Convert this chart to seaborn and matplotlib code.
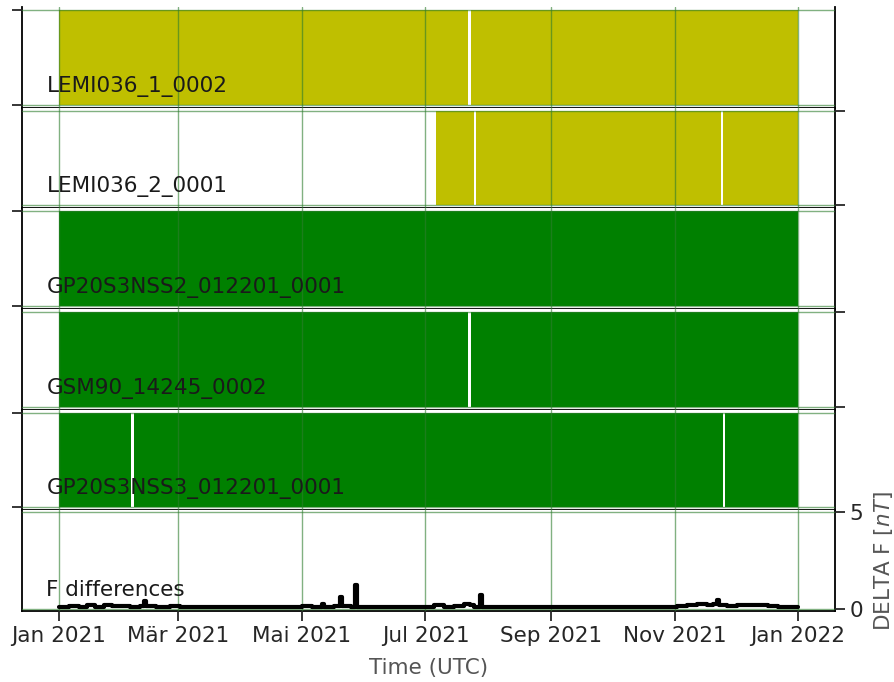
import matplotlib
matplotlib.use("Agg")
import matplotlib.pyplot as plt
import seaborn as sns
import pandas as pd
import numpy as np

# ---------------- data ----------------
sensor_names = ["LEMI036_1_0002", "LEMI036_2_0001", "GP20S3NSS2_012201_0001",
                "GSM90_14245_0002", "GP20S3NSS3_012201_0001"]
sensor_colors = ["#bfbf00", "#bfbf00", "#008000", "#008000", "#008000"]

# periods with data (start, end) for each sensor
lemi1_periods = [("2021-01-01 00:00", "2021-07-22 06:00"), ("2021-07-23 12:00", "2022-01-01 00:00")]
lemi2_periods = [("2021-07-06 00:00", "2021-07-24 18:00"), ("2021-07-26 00:00", "2021-11-23 18:00"),
                 ("2021-11-25 00:00", "2022-01-01 00:00")]
gp20s2_periods = [("2021-01-01 00:00", "2022-01-01 00:00")]
gsm90_periods = [("2021-01-01 00:00", "2021-07-22 06:00"), ("2021-07-23 06:00", "2022-01-01 00:00")]
gp20s3_periods = [("2021-01-01 00:00", "2021-02-05 18:00"), ("2021-02-07 00:00", "2021-11-24 18:00"),
                  ("2021-11-26 00:00", "2022-01-01 00:00")]
sensor_periods = [lemi1_periods, lemi2_periods, gp20s2_periods, gsm90_periods, gp20s3_periods]

# F differences (day offset from 2021-01-01, nT)
fdiff_day = [0, 5, 10, 14, 18, 22, 26, 30, 35, 40, 42, 43, 48, 55, 60, 65, 70, 75, 80, 85,
             90, 95, 100, 105, 110, 115, 120, 125, 130, 131, 136, 139, 140, 144, 146, 147, 150, 155,
             160, 165, 170, 175, 180, 185, 190, 195, 200, 203, 205, 208, 209, 212, 216, 220, 225,
             230, 235, 240, 245, 250, 255, 260, 265, 270, 275, 280, 285, 290, 295, 300, 305, 310,
             315, 320, 323, 325, 326, 330, 335, 340, 345, 350, 355, 360, 365]
fdiff_val = [0.10, 0.18, 0.12, 0.20, 0.12, 0.20, 0.14, 0.16, 0.10, 0.14, 0.42, 0.15, 0.12, 0.14,
             0.10, 0.12, 0.10, 0.12, 0.10, 0.12, 0.10, 0.11, 0.10, 0.12, 0.10, 0.12, 0.18, 0.12,
             0.25, 0.12, 0.15, 0.60, 0.15, 0.12, 1.22, 0.12, 0.10, 0.12, 0.10, 0.12, 0.10, 0.12,
             0.10, 0.20, 0.12, 0.15, 0.25, 0.22, 0.12, 0.75, 0.10, 0.12, 0.10, 0.12, 0.10, 0.11,
             0.10, 0.12, 0.10, 0.12, 0.10, 0.12, 0.10, 0.11, 0.10, 0.12, 0.10, 0.12, 0.10, 0.12,
             0.18, 0.22, 0.25, 0.22, 0.25, 0.45, 0.20, 0.18, 0.22, 0.20, 0.22, 0.15, 0.12, 0.12, 0.10]
fdiff_label = "F differences"

tick_dates = ["2021-01-01", "2021-03-01", "2021-05-01", "2021-07-01", "2021-09-01",
              "2021-11-01", "2022-01-01"]
tick_labels = ["Jan 2021", "Mär 2021", "Mai 2021", "Jul 2021", "Sep 2021", "Nov 2021", "Jan 2022"]
fdiff_yticks = [0, 5]

# ---------------- plot ----------------
sns.set_style("ticks")
plt.rcParams["font.family"] = ["DejaVu Sans"]
FS = 15.5
grid_kw = dict(color="#2e7d2e", alpha=0.6, linewidth=1.0)

fig, axes = plt.subplots(6, 1, sharex=True, figsize=(8.95, 6.82), dpi=100)
fig.subplots_adjust(left=22 / 895, right=835 / 895, top=1 - 7 / 682, bottom=1 - 611 / 682, hspace=0)

tdates = pd.to_datetime(tick_dates)

for i, (ax, name, col, periods) in enumerate(zip(axes[:5], sensor_names, sensor_colors, sensor_periods)):
    for s, e in periods:
        ax.fill_between(pd.to_datetime([s, e]), [0, 0], [1, 1], color=col, linewidth=0, zorder=1)
    ax.set_ylim(-0.03, 1.03)
    ax.set_yticks([0, 1])
    ax.set_yticklabels([])
    ax.text(0.03, 0.14, name, transform=ax.get_yaxis_transform(), fontsize=FS,
            color="#1a1a1a", va="baseline", ha="left", zorder=5)

# F differences
ax6 = axes[5]
fd = pd.DataFrame({"time": pd.Timestamp("2021-01-01") + pd.to_timedelta(fdiff_day, unit="D"),
                   "dF": fdiff_val})
sns.lineplot(data=fd, x="time", y="dF", ax=ax6, color="black", linewidth=3.0,
             drawstyle="steps-post", zorder=3)
ax6.set_ylim(-0.1, 5.1)
ax6.set_yticks(fdiff_yticks)
ax6.text(0.03, 0.68, fdiff_label, transform=ax6.get_yaxis_transform(), fontsize=FS,
         color="#1a1a1a", va="baseline", ha="left", zorder=5)
ax6.set_ylabel("DELTA F [$nT$]", fontsize=FS, color="#555555", labelpad=6)
ax6.yaxis.set_label_position("right")
ax6.set_xlabel("Time (UTC)", fontsize=FS, color="#555555", labelpad=9)

for i, ax in enumerate(axes):
    ax.set_axisbelow(False)
    ax.grid(True, **grid_kw)
    ax.spines["top"].set_visible(False)
    for sp in ["left", "right", "bottom"]:
        ax.spines[sp].set_visible(True)
        ax.spines[sp].set_color("black")
        ax.spines[sp].set_linewidth(1.3)
    if i % 2 == 0:
        ax.yaxis.tick_left()
    else:
        ax.yaxis.tick_right()
    ax.tick_params(axis="y", length=7, width=1.3, labelsize=FS, colors="#262626")
    if i < 5:
        ax.tick_params(axis="x", bottom=False, labelbottom=False)

ax6.set_xticks(tdates)
ax6.set_xticklabels(tick_labels)
ax6.tick_params(axis="x", bottom=True, labelbottom=True, length=7, width=1.3,
                labelsize=FS, colors="#262626")
ax6.set_xlim(pd.Timestamp("2020-12-13 18:00"), pd.Timestamp("2022-01-19 06:00"))

fig.savefig("out.png", dpi=100)
